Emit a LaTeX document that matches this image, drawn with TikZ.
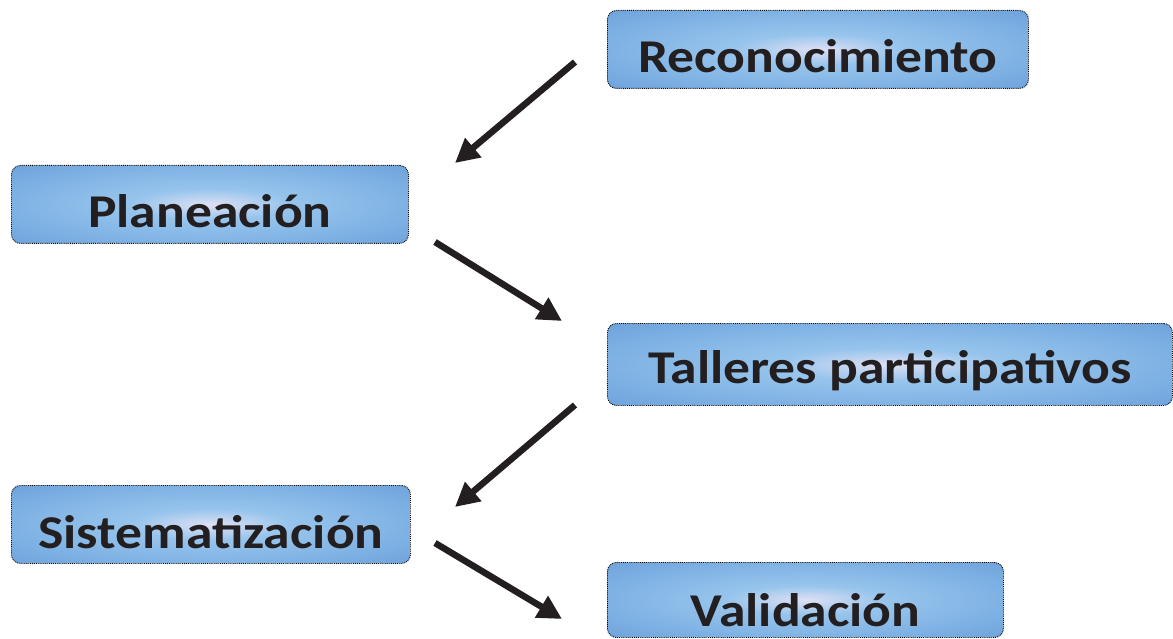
\documentclass[tikz,border=0pt]{standalone}
\usepackage{fontspec}
\setmainfont{Carlito}
\usetikzlibrary{arrows.meta}
\definecolor{boxblue}{RGB}{96,148,210}
\definecolor{boxmid}{RGB}{122,174,226}
\definecolor{boxsoft}{RGB}{150,196,236}
\definecolor{boxlight}{RGB}{222,224,244}
\definecolor{arrowblack}{RGB}{35,31,32}
\pgfdeclareradialshading{boxshade}{\pgfpoint{0bp}{0bp}}{%
  color(0bp)=(boxlight); color(10bp)=(boxsoft); color(28bp)=(boxmid);
  color(44bp)=(boxblue); color(100bp)=(boxblue)}
\newcommand{\stxt}[1]{\scalebox{1.14}[1]{#1}}
\tikzset{
  stage/.style={draw=black, densely dotted, line width=0.9pt, rounded corners=9pt,
    shading=boxshade,
    font=\fontsize{47}{56}\selectfont\bfseries, text=arrowblack, anchor=north west,
    inner sep=0pt, text height=46pt, text depth=0pt},
  flow/.style={line width=6.5pt, draw=arrowblack, -{Triangle[length=24pt,width=24pt]}}
}
\begin{document}
\begin{tikzpicture}[x=1pt,y=-1pt]
\useasboundingbox (0,0) rectangle (1173,639);
\node[stage, minimum width=421pt, minimum height=78pt] (rec) at (607,10) {\stxt{Reconocimiento}};
\node[stage, minimum width=397pt, minimum height=78pt] (pla) at (11,165) {\stxt{Planeación}};
\node[stage, minimum width=565pt, minimum height=82pt, text height=38pt] (tal) at (607,323) {\stxt{Talleres participativos}};
\node[stage, minimum width=399pt, minimum height=78pt, text height=48pt] (sis) at (11,485) {\stxt{Sistematización}};
\node[stage, minimum width=396pt, minimum height=75pt, text height=54pt] (val) at (607,562) {\stxt{Validación}};
\coordinate (a1s) at (575,62);  \coordinate (a1e) at (455,163);
\coordinate (a2s) at (435,242); \coordinate (a2e) at (562,321);
\coordinate (a3s) at (575,405); \coordinate (a3e) at (455,507);
\coordinate (a4s) at (435,543); \coordinate (a4e) at (562,619);
\draw[flow] (a1s) -- (a1e);
\draw[flow] (a2s) -- (a2e);
\draw[flow] (a3s) -- (a3e);
\draw[flow] (a4s) -- (a4e);
\end{tikzpicture}
\end{document}
